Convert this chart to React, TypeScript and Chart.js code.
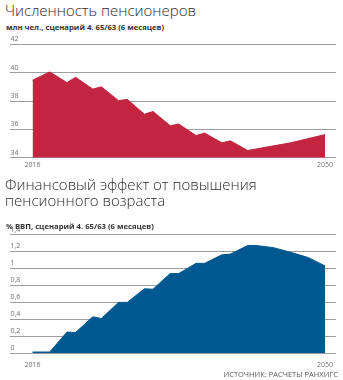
import React, { useEffect, useRef } from "react";
import { Chart, registerables } from "chart.js";

Chart.register(...registerables);

const years1 = [2016, 2018, 2020, 2021, 2023, 2024, 2026, 2027, 2029, 2030, 2032, 2033, 2035, 2036, 2038, 2039, 2041, 2046, 2050];
const pensioners = [39.47, 40.05, 39.3, 39.67, 38.84, 39.0, 38.02, 38.12, 37.07, 37.26, 36.26, 36.37, 35.56, 35.74, 35.05, 35.19, 34.51, 35.05, 35.63];

const years2 = [2016, 2018, 2020, 2021, 2023, 2024, 2026, 2027, 2029, 2030, 2032, 2033, 2035, 2036, 2038, 2039, 2041, 2042, 2044, 2046, 2048, 2050];
const effect = [0.015, 0.015, 0.25, 0.245, 0.43, 0.41, 0.6, 0.6, 0.76, 0.755, 0.94, 0.94, 1.06, 1.06, 1.16, 1.17, 1.27, 1.27, 1.245, 1.19, 1.13, 1.03];

const xTickYears = [2016, 2050];
const yTicks1 = [34, 36, 38, 40, 42];
const yTicks2 = [0, 0.2, 0.4, 0.6, 0.8, 1, 1.2, 1.4];

const FONT = "'Open Sans', 'DejaVu Sans', sans-serif";
const GRID = "#9d9d9d";
const TICK = "#707070";

function makeConfig(
  years: number[],
  values: number[],
  color: string,
  yTicks: number[],
  fmt: (v: number) => string,
  padTop: number,
  padBottom: number,
  xPad: number
): any {
  return {
    type: "line",
    data: {
      datasets: [
        {
          data: years.map((y, i) => ({ x: y, y: values[i] })),
          backgroundColor: color,
          borderColor: color,
          borderWidth: 1,
          pointRadius: 0,
          fill: "start",
          tension: 0,
        },
      ],
    },
    options: {
      animation: false,
      responsive: false,
      maintainAspectRatio: false,
      layout: { padding: { left: 7.5, right: 7, top: padTop, bottom: padBottom } },
      plugins: { legend: { display: false }, tooltip: { enabled: false }, title: { display: false } },
      scales: {
        x: {
          type: "linear",
          min: 2013.32,
          max: 2051.27,
          grid: { display: false, drawTicks: false },
          border: { display: false },
          afterBuildTicks: (axis: any) => {
            axis.ticks = xTickYears.map((v) => ({ value: v }));
          },
          ticks: {
            padding: xPad,
            maxRotation: 0,
            autoSkip: false,
            color: TICK,
            font: { family: FONT, size: 7 },
            callback: (v: any) => String(v),
          },
        },
        y: {
          min: yTicks[0],
          max: yTicks[yTicks.length - 1],
          grid: { color: GRID, lineWidth: 1, drawTicks: false },
          border: { display: false },
          afterBuildTicks: (axis: any) => {
            axis.ticks = yTicks.map((v) => ({ value: v }));
          },
          ticks: {
            mirror: true,
            padding: 1,
            labelOffset: -5,
            color: TICK,
            font: { family: FONT, size: 7 },
            callback: (v: any) => fmt(Number(v)),
          },
        },
      },
    },
  };
}

function ChartCanvas(props: { config: any; top: number; height: number }) {
  const ref = useRef<HTMLCanvasElement | null>(null);
  useEffect(() => {
    if (!ref.current) return;
    const c = new Chart(ref.current, props.config);
    return () => c.destroy();
  }, []);
  return (
    <canvas
      ref={ref}
      width={343}
      height={props.height}
      style={{ position: "absolute", left: 0, top: props.top, width: 343, height: props.height }}
    />
  );
}

export default function App() {
  // x-axis height = 8.4 (label) + 2 * padding
  const cfg1 = makeConfig(years1, pensioners, "#c3243f", yTicks1, (v) => String(v), 14.3, 2.9, 3);
  const cfg2 = makeConfig(
    years2,
    effect,
    "#005890",
    yTicks2,
    (v) => String(Math.round(v * 10) / 10).replace(".", ","),
    14.5,
    2.3,
    7
  );
  const titleStyle: React.CSSProperties = {
    position: "absolute",
    left: 5,
    fontFamily: FONT,
    fontWeight: 300,
    fontSize: 15,
    lineHeight: "16px",
    color: "#2a2a2a",
    whiteSpace: "nowrap",
  };
  const subStyle: React.CSSProperties = {
    position: "absolute",
    left: 6,
    fontFamily: FONT,
    fontWeight: 700,
    fontSize: 7.7,
    lineHeight: "9px",
    color: "#333",
    whiteSpace: "nowrap",
  };
  return (
    <div style={{ position: "fixed", left: 0, top: 0, width: 343, height: 380, background: "#fff", overflow: "hidden" }}>
      <div style={{ ...titleStyle, top: 1.5 }}>Численность пенсионеров</div>
      <div style={{ ...subStyle, top: 23 }}>млн чел., сценарий 4. 65/63 (6 месяцев)</div>
      <ChartCanvas config={cfg1} top={30} height={145} />
      <div style={{ ...titleStyle, top: 175.5 }}>
        Финансовый эффект от повышения
        <br />
        пенсионного возраста
      </div>
      <div style={{ ...subStyle, top: 222 }}>% ВВП, сценарий 4. 65/63 (6 месяцев)</div>
      <ChartCanvas config={cfg2} top={220} height={158} />
      <div
        style={{
          position: "absolute",
          right: 5,
          top: 369.5,
          fontFamily: FONT,
          fontSize: 7.5,
          lineHeight: "9px",
          color: "#555",
          whiteSpace: "nowrap",
        }}
      >
        ИСТОЧНИК: РАСЧЕТЫ РАНХИГС
      </div>
    </div>
  );
}
